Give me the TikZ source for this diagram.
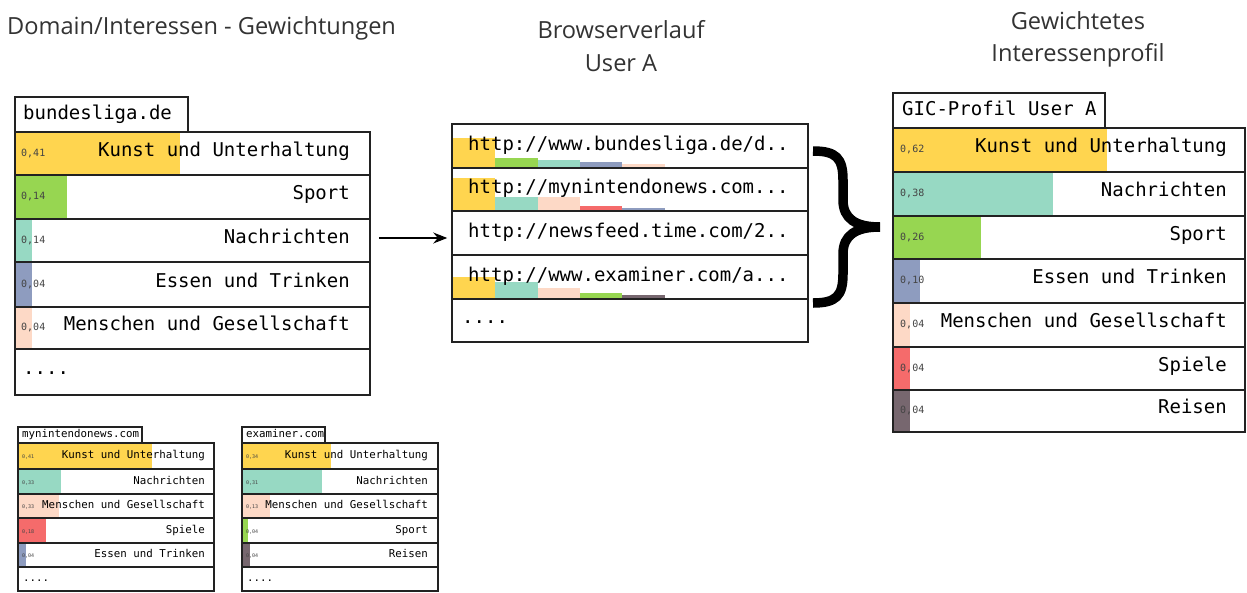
\documentclass[tikz,border=0pt]{standalone}
\usepackage{fontspec}
\setmainfont{Open Sans}
\setmonofont{DejaVu Sans Mono}
\usetikzlibrary{arrows.meta,fit}
\definecolor{cKunst}{HTML}{FFD54F}
\definecolor{cSport}{HTML}{97D651}
\definecolor{cNews}{HTML}{97D9C3}
\definecolor{cFood}{HTML}{8E9CBF}
\definecolor{cPeople}{HTML}{FDD9C6}
\definecolor{cGames}{HTML}{F56B6B}
\definecolor{cTravel}{HTML}{77676F}
\definecolor{rowline}{HTML}{222222}
\definecolor{numcol}{HTML}{444444}
\definecolor{titlecol}{HTML}{333333}
\newcommand{\gicrow}[9]{%
  \fill[#6] (#1,#2) rectangle (#5,#4);
  \node[fit={(#1,#2) (#3,#4)}, inner sep=0pt, draw=rowline, line width=\rowlw] (#9) {};
  \node[numtxt, anchor=west] at ({#1+\numoff},{(#2+#4)/2}) {#7};
  \node[labtxt, anchor=east] at ({#3-\laboff},{(#2+#4)/2}) {#8};
}
\newcommand{\gicdots}[5]{%
  \node[fit={(#1,#2) (#3,#4)}, inner sep=0pt, draw=rowline, line width=\rowlw] (#5) {};
  \node[labtxt, anchor=west] at ({#1+\dotoff},{(#2+#4)/2}) {....};
}
\tikzset{
  title/.style={font=\fontsize{23.6}{32.5}\selectfont, text=titlecol, inner sep=0pt, align=center},
  numtxt/.style={font=\ttfamily\fontsize{10}{12}\selectfont, text=numcol, inner sep=0pt, text height=0.72em, text depth=0.2em},
  labtxt/.style={font=\ttfamily\fontsize{19}{22}\selectfont, text=black, inner sep=0pt, text height=0.72em, text depth=0.15em},
  tabbox/.style={inner sep=0pt, draw=rowline, line width=2.5pt, fill=white},
  outer/.style={draw=rowline, line width=2.5pt},
}
\begin{document}
\begin{tikzpicture}[x=1pt,y=-1pt]
\useasboundingbox (0,0) rectangle (1247,592);
\fill[white] (0,0) rectangle (1247,592);

% titles
\node[title, anchor=west] (t1) at (7,28) {Domain/Interessen - Gewichtungen};
\node[title] (t2) at (621,46) {Browserverlauf\\User A};
\node[title] (t3) at (1078,39.5) {Gewichtetes\\Interessenprofil};

% ---------------- bundesliga.de
\begin{scope}
\def\numoff{6}\def\laboff{20}\def\rowlw{1.5pt}\def\dotoff{8}
\node[tabbox, fit={(15,97) (188,132)}] (bTab) {};
\node[labtxt, anchor=west] (bTabT) at (23,117) {bundesliga.de};
\gicrow{15}{132}{370}{175}{180}{cKunst}{0,41}{Kunst und Unterhaltung}{bR1}
\gicrow{15}{175}{370}{219}{67}{cSport}{0,14}{Sport}{bR2}
\gicrow{15}{219}{370}{262}{32}{cNews}{0,14}{Nachrichten}{bR3}
\gicrow{15}{262}{370}{307}{32}{cFood}{0,04}{Essen und Trinken}{bR4}
\gicrow{15}{307}{370}{349}{32}{cPeople}{0,04}{Menschen und Gesellschaft}{bR5}
\gicdots{15}{349}{370}{395}{bR6}
\draw[outer] (15,132) rectangle (370,395);
\end{scope}

% ---------------- mynintendonews.com
\begin{scope}
\tikzset{labtxt/.append style={font=\ttfamily\fontsize{10.8}{12}\selectfont},
         numtxt/.append style={font=\ttfamily\fontsize{5}{6}\selectfont},
         tabbox/.append style={line width=1.8pt}, outer/.append style={line width=1.8pt}}
\def\numoff{4}\def\laboff{9}\def\rowlw{1.2pt}\def\dotoff{5}
\node[tabbox, fit={(18,427) (142,443)}] (mTab) {};
\node[labtxt, anchor=west] (mTabT) at (22,435) {mynintendonews.com};
\gicrow{18}{443}{214}{469}{152}{cKunst}{0,41}{Kunst und Unterhaltung}{mR1}
\gicrow{18}{469}{214}{494}{61}{cNews}{0,33}{Nachrichten}{mR2}
\gicrow{18}{494}{214}{518}{59}{cPeople}{0,33}{Menschen und Gesellschaft}{mR3}
\gicrow{18}{518}{214}{543}{46}{cGames}{0,18}{Spiele}{mR4}
\gicrow{18}{543}{214}{567}{26}{cFood}{0,04}{Essen und Trinken}{mR5}
\gicdots{18}{567}{214}{591}{mR6}
\draw[outer] (18,443) rectangle (214,591);
\end{scope}

% ---------------- examiner.com
\begin{scope}
\tikzset{labtxt/.append style={font=\ttfamily\fontsize{10.8}{12}\selectfont},
         numtxt/.append style={font=\ttfamily\fontsize{5}{6}\selectfont},
         tabbox/.append style={line width=1.8pt}, outer/.append style={line width=1.8pt}}
\def\numoff{4}\def\laboff{10}\def\rowlw{1.2pt}\def\dotoff{5}
\node[tabbox, fit={(242,427) (325,443)}] (eTab) {};
\node[labtxt, anchor=west] (eTabT) at (246,435) {examiner.com};
\gicrow{242}{443}{438}{469}{331}{cKunst}{0,34}{Kunst und Unterhaltung}{eR1}
\gicrow{242}{469}{438}{494}{322}{cNews}{0,31}{Nachrichten}{eR2}
\gicrow{242}{494}{438}{518}{270}{cPeople}{0,13}{Menschen und Gesellschaft}{eR3}
\gicrow{242}{518}{438}{543}{248}{cSport}{0,04}{Sport}{eR4}
\gicrow{242}{543}{438}{567}{250}{cTravel}{0,04}{Reisen}{eR5}
\gicdots{242}{567}{438}{591}{eR6}
\draw[outer] (242,443) rectangle (438,591);
\end{scope}

% ---------------- Browserverlauf
\begin{scope}
\def\rowlw{1.5pt}\def\dotoff{10}
% row 1 bars
\fill[cKunst] (452,138) rectangle (495,168);
\fill[cSport] (495,158) rectangle (538,168);
\fill[cNews] (538,160) rectangle (580,168);
\fill[cFood] (580,162) rectangle (622,168);
\fill[cPeople] (622,164) rectangle (665,168);
% row 2 bars
\fill[cKunst] (452,178) rectangle (495,211);
\fill[cNews] (495,197) rectangle (538,211);
\fill[cPeople] (538,197) rectangle (580,211);
\fill[cGames] (580,206) rectangle (622,211);
\fill[cFood] (622,208) rectangle (665,211);
% row 4 bars
\fill[cKunst] (452,277) rectangle (495,299);
\fill[cNews] (495,282) rectangle (538,299);
\fill[cPeople] (538,288) rectangle (580,299);
\fill[cSport] (580,293) rectangle (622,299);
\fill[cTravel] (622,295) rectangle (665,299);
\node[fit={(452,124) (808,168)}, inner sep=0pt, draw=rowline, line width=\rowlw] (u1) {};
\node[fit={(452,168) (808,211)}, inner sep=0pt, draw=rowline, line width=\rowlw] (u2) {};
\node[fit={(452,211) (808,255)}, inner sep=0pt, draw=rowline, line width=\rowlw] (u3) {};
\node[fit={(452,255) (808,299)}, inner sep=0pt, draw=rowline, line width=\rowlw] (u4) {};
\node[labtxt, anchor=west] (u1t) at (468,148) {http://www.bundesliga.de/d..};
\node[labtxt, anchor=west] (u2t) at (468,191) {http://mynintendonews.com...};
\node[labtxt, anchor=west] (u3t) at (468,235) {http://newsfeed.time.com/2..};
\node[labtxt, anchor=west] (u4t) at (468,279) {http://www.examiner.com/a...};
\gicdots{452}{299}{808}{342}{u5}
\draw[outer] (452,124) rectangle (808,342);
\end{scope}

% arrow
\draw[line width=1.2pt, -{Stealth[length=14pt,width=11pt]}, shorten <=8pt, shorten >=4pt]
  (bR3.east |- 0,238) -- (u3.west |- 0,238);

% brace
\draw[line width=9.5pt, black]
  (813,151) .. controls (836,151) and (843,158) .. (843,180) -- (843,200)
  .. controls (843,219) and (856,227) .. (880,227)
  .. controls (856,227) and (843,235) .. (843,254) -- (843,274)
  .. controls (843,296) and (836,303) .. (813,303);

% ---------------- GIC-Profil User A
\begin{scope}
\def\numoff{7}\def\laboff{18}\def\rowlw{1.5pt}
\node[tabbox, fit={(893,93) (1105,128)}] (gTab) {};
\node[labtxt, anchor=west] (gTabT) at (902,113) {GIC-Profil User A};
\gicrow{893}{128}{1245}{172}{1107}{cKunst}{0,62}{Kunst und Unterhaltung}{gR1}
\gicrow{893}{172}{1245}{216}{1053}{cNews}{0,38}{Nachrichten}{gR2}
\gicrow{893}{216}{1245}{259}{981}{cSport}{0,26}{Sport}{gR3}
\gicrow{893}{259}{1245}{303}{920}{cFood}{0,10}{Essen und Trinken}{gR4}
\gicrow{893}{303}{1245}{347}{910}{cPeople}{0,04}{Menschen und Gesellschaft}{gR5}
\gicrow{893}{347}{1245}{390}{910}{cGames}{0,04}{Spiele}{gR6}
\gicrow{893}{390}{1245}{432}{910}{cTravel}{0,04}{Reisen}{gR7}
\draw[outer] (893,128) rectangle (1245,432);
\end{scope}
\end{tikzpicture}
\end{document}
